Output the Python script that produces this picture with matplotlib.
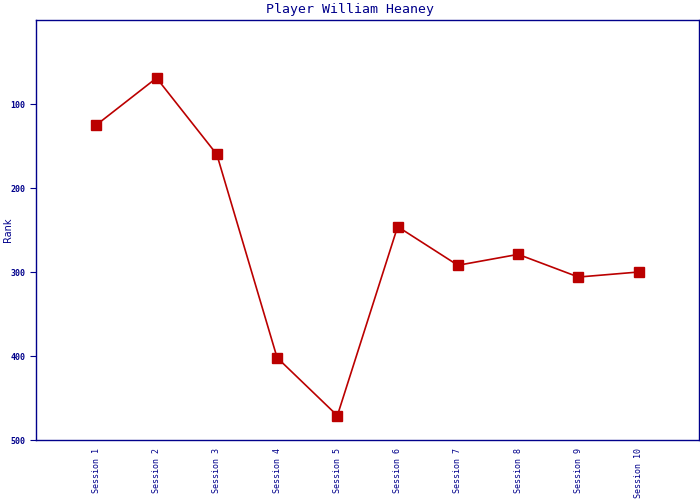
import matplotlib
matplotlib.use('Agg')
import matplotlib.pyplot as plt

sessions = ['Session %d' % i for i in range(1, 11)]
ranks = [125, 69, 160, 402, 471, 246, 292, 279, 306, 300]

navy = '#00008b'
red = '#bb0000'

fig = plt.figure(figsize=(7, 5), dpi=100)
ax = fig.add_axes([36/700, 60/500, 663/700, 420/500])

xs = list(range(1, len(sessions) + 1))
ax.plot(xs, ranks, color=red, lw=1.2, marker='s', markersize=7, markeredgecolor=red)

ax.set_xlim(0, len(sessions) + 1)
ax.set_ylim(500, 0)
ax.set_yticks([100, 200, 300, 400, 500])
ax.set_xticks(xs)
ax.set_xticklabels(sessions, rotation=90, fontsize=6, family='DejaVu Sans Mono', color=navy)
ax.tick_params(axis='x', length=0, pad=6)
ax.tick_params(axis='y', length=4, color=navy, labelsize=6, labelcolor=navy, direction='out')
for lab in ax.get_yticklabels():
    lab.set_family('DejaVu Sans Mono')
    lab.set_fontweight('bold')

for sp in ax.spines.values():
    sp.set_color(navy)
    sp.set_linewidth(1)

ax.set_ylabel('Rank', color=navy, fontsize=7)
ax.yaxis.set_label_coords(-0.034, 0.5)
fig.text(0.5, 0.982, 'Player William Heaney', ha='center', va='center',
         color=navy, fontsize=9.5, family='DejaVu Sans Mono')

fig.savefig('out.png', dpi=100)
